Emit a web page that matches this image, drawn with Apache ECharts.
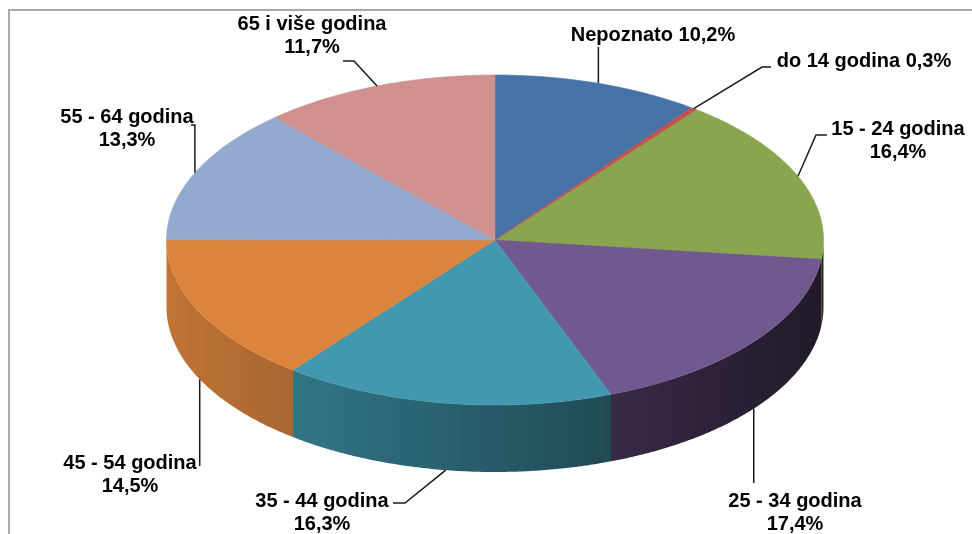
<!DOCTYPE html>
<html>
<head>
<meta charset="utf-8"/>
<title>Struktura po dobi</title>
<script src="https://cdn.jsdelivr.net/npm/echarts@6/dist/echarts.min.js"></script>
<style>
  html, body { margin: 0; padding: 0; background: #fff; }
  #main { width: 972px; height: 534px; }
</style>
</head>
<body>
<div id="main"></div>
<script>
// podaci
var categories = ['Nepoznato', 'do 14 godina', '15 - 24 godina', '25 - 34 godina',
                  '35 - 44 godina', '45 - 54 godina', '55 - 64 godina', '65 i više godina'];
var shares = [10.2, 0.3, 16.4, 17.4, 16.3, 14.5, 13.3, 11.7];
var colors = ['#4572A7', '#C0504D', '#89A54E', '#71588F', '#4198AF', '#DB843D', '#93A9CF', '#CF908F'];

// raspored natpisa: sredina bloka teksta, jedna ili dvije linije, tocke linije vodilice (null = okomito)
var labelPos = [[653, 35], [864, 61], [898, 141], [795, 513], [322, 513], [130, 475], [127, 129], [312, 36]];
var oneLine = [true, true, false, false, false, false, false, false];
var leaderPts = [
  [[null, 47]],
  [[762, 67], [771, 67]],
  [[816, 135], [827, 135]],
  [[null, 483]],
  [[405, 503], [393, 503]],
  [[null, 466]],
  [[null, 125], [191, 125]],
  [[354, 61], [343, 61]]
];

// geometrija "3D" pite
var cx = 495, cy = 240, rx = 328.5, ry = 165, depth = 67;

var total = shares.reduce(function (a, b) { return a + b; }, 0);
var seriesData = [];
var cum = 0;
shares.forEach(function (v, i) {
  seriesData.push([cum, cum + v, i]);
  cum += v;
});

function pt(t, dy) {
  return [cx + rx * Math.sin(t), cy - ry * Math.cos(t) + dy];
}
function arc(from, to, dy) {
  var n = Math.max(2, Math.ceil(Math.abs(to - from) / (0.5 * Math.PI / 180)));
  var res = [];
  for (var k = 0; k <= n; k++) {
    res.push(pt(from + (to - from) * k / n, dy));
  }
  return res;
}
function shade(hex, f) {
  var r = parseInt(hex.substr(1, 2), 16), g = parseInt(hex.substr(3, 2), 16), b = parseInt(hex.substr(5, 2), 16);
  return 'rgb(' + Math.round(r * f) + ',' + Math.round(g * f) + ',' + Math.round(b * f) + ')';
}
function pctText(v) {
  return v.toFixed(1).replace('.', ',') + '%';
}

function renderItem(params, api) {
  var i = api.value(2);
  var a0 = api.value(0) / total * 2 * Math.PI;
  var a1 = api.value(1) / total * 2 * Math.PI;
  var children = [];

  // bocna stranica (samo prednja polovica)
  var s0 = Math.max(a0, Math.PI / 2), s1 = Math.min(a1, Math.PI * 1.5);
  if (s1 > s0) {
    var side = arc(s0, s1, 0).concat(arc(s1, s0, depth));
    children.push({
      type: 'polygon', z2: 1,
      shape: { points: side },
      style: {
        fill: new echarts.graphic.LinearGradient(cx - rx, 0, cx + rx, 0, [
          { offset: 0, color: shade(colors[i], 0.88) },
          { offset: 1, color: shade(colors[i], 0.3) }
        ], true),
        stroke: null
      }
    });
  }

  // gornja ploha
  var top = [[cx, cy]].concat(arc(a0, a1, 0));
  children.push({
    type: 'polygon', z2: 10 + (i === 1 ? 1 : 0),
    shape: { points: top },
    style: { fill: colors[i], stroke: colors[i], lineWidth: 0.6 }
  });

  // linija vodilica
  var m = (a0 + a1) / 2;
  var front = m > Math.PI / 2 && m < Math.PI * 1.5;
  var anchor = pt(m, front ? depth : 0);
  var line = [anchor];
  leaderPts[i].forEach(function (p) {
    line.push([p[0] === null ? anchor[0] : p[0], p[1]]);
  });
  children.push({
    type: 'polyline', z2: 20,
    shape: { points: line },
    style: { stroke: '#1a1a1a', lineWidth: 1.5, fill: null }
  });

  // natpis
  var txt = oneLine[i] ? categories[i] + ' ' + pctText(shares[i]) : categories[i] + '\n' + pctText(shares[i]);
  children.push({
    type: 'text', z2: 30,
    style: {
      text: txt,
      x: labelPos[i][0], y: labelPos[i][1],
      align: 'center', verticalAlign: 'middle',
      font: 'bold 20px "Liberation Sans", Arial, sans-serif',
      lineHeight: 23,
      fill: '#000'
    }
  });

  return { type: 'group', children: children };
}

var myChart = echarts.init(document.getElementById('main'));
var option = {
  backgroundColor: '#fff',
  animation: false,
  graphic: [{
    type: 'polyline',
    shape: { points: [[9, 534], [9, 10], [972, 10]] },
    style: { stroke: '#a8a8a8', lineWidth: 2, fill: null }
  }],
  series: [{
    type: 'custom',
    coordinateSystem: 'none',
    renderItem: renderItem,
    data: seriesData
  }]
};
myChart.setOption(option);
</script>
</body>
</html>
